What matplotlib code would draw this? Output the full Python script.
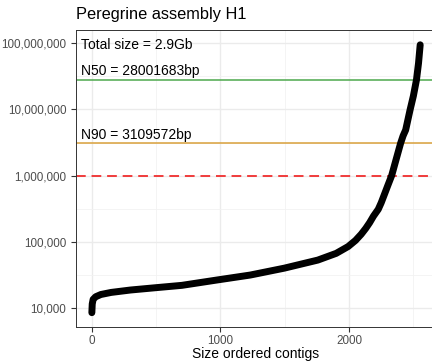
import matplotlib
matplotlib.use("Agg")
import matplotlib.pyplot as plt
from matplotlib.ticker import FixedLocator, FuncFormatter

# Contig sizes (rank in size order, length in bp)
rank = [0, 3, 10, 30, 70, 150, 300, 500, 700, 973, 1232, 1496, 1757, 1900,
        1993, 2050, 2094, 2130, 2160, 2190, 2227, 2250, 2284, 2300, 2331,
        2360, 2401, 2420, 2440, 2474, 2500, 2524, 2540, 2553]
size = [8500, 11500, 13500, 14800, 16000, 17200, 18700, 20300, 22000, 26500,
        31500, 40000, 53000, 67000, 85000, 105000, 130000, 160000, 195000,
        245000, 310000, 390000, 580000, 700000, 1000000, 1600000, 3100000,
        4000000, 4900000, 9800000, 16000000, 28000000, 50000000, 95000000]

n50 = 28001683
n90 = 3109572
cutoff = 1000000
labels = ["Total size = 2.9Gb", "N50 = 28001683bp", "N90 = 3109572bp"]

plt.rcParams["font.family"] = ["Liberation Sans", "DejaVu Sans"]

fig = plt.figure(figsize=(4.32, 3.61), dpi=100)
ax = fig.add_axes([0.176, 0.0942, 0.83, 0.8227])

ax.set_yscale("log")
ax.set_xlim(-123, 2665)
ax.set_ylim(5165, 1.59e8)

# grid (ggplot theme_bw style)
for v in [500, 1500, 2500]:
    ax.axvline(v, color="#F2F2F2", lw=0.6, zorder=0)
for v in [0, 1000, 2000]:
    ax.axvline(v, color="#EBEBEB", lw=1.0, zorder=0)
for v in [10**4.5, 10**5.5, 10**6.5, 10**7.5]:
    ax.axhline(v, color="#F2F2F2", lw=0.6, zorder=0)
for v in [1e4, 1e5, 1e6, 1e7, 1e8]:
    ax.axhline(v, color="#EBEBEB", lw=1.0, zorder=0)

ax.plot(rank, size, color="black", lw=5, solid_capstyle="round",
        solid_joinstyle="round", zorder=3)

ax.axhline(n50, color="#4DA84D", lw=1.1, zorder=2)
ax.axhline(n90, color="#D9A03A", lw=1.1, zorder=2)
ax.axhline(cutoff, color="#F03C3C", lw=1.4, ls=(0, (5, 3)), zorder=2)

ax.text(-84, 10**7.973, labels[0], fontsize=10, va="center", ha="left")
ax.text(-84, 10**7.58, labels[1], fontsize=10, va="center", ha="left")
ax.text(-84, 10**6.61, labels[2], fontsize=10, va="center", ha="left")

ax.xaxis.set_major_locator(FixedLocator([0, 1000, 2000]))
ax.yaxis.set_major_locator(FixedLocator([1e4, 1e5, 1e6, 1e7, 1e8]))
ax.yaxis.set_minor_locator(FixedLocator([]))
ax.yaxis.set_major_formatter(FuncFormatter(lambda v, p: f"{int(round(v)):,}"))
ax.tick_params(axis="both", colors="#333333", labelcolor="#4D4D4D",
               labelsize=8.4, length=3.5, width=0.8)
ax.tick_params(axis="x", pad=2)

for side in ["left", "bottom", "top", "right"]:
    ax.spines[side].set_color("#333333")
    ax.spines[side].set_linewidth(0.7)

ax.set_xlabel("Size ordered contigs", fontsize=10, labelpad=0)
ax.set_title("Peregrine assembly H1", fontsize=11.8, loc="left", pad=8)

plt.savefig("out.png", dpi=100)
plt.close()
